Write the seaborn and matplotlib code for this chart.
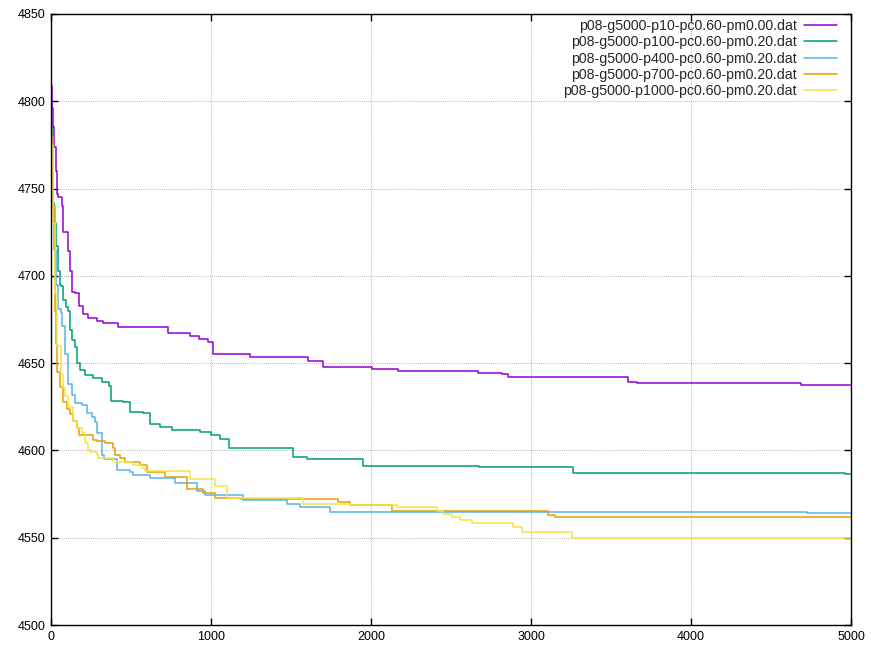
import pandas as pd
import matplotlib
matplotlib.use("Agg")
import matplotlib.pyplot as plt
import seaborn as sns

# step breakpoints (generation, best fitness)
p10_gen = [0, 6, 12, 19, 31, 37, 44, 67, 75, 106, 119, 131, 150, 175, 200, 231, 288, 325, 419,
           731, 869, 925, 981, 1012, 1244, 1606, 1700, 2006, 2169, 2669, 2819, 2856, 3025,
           3606, 3662, 4688, 5000]
p10_val = [4809, 4796, 4785, 4774, 4760, 4747, 4745, 4740, 4725, 4714, 4703, 4691, 4690, 4683,
           4678, 4676, 4674, 4673, 4670.5, 4667, 4665.5, 4664, 4662, 4655.5, 4653.5, 4651, 4648,
           4646.5, 4645.7, 4644.4, 4643.5, 4642.2, 4641.9, 4639, 4638.4, 4637.6, 4637.6]

p100_gen = [0, 3, 6, 12, 19, 31, 44, 56, 62, 75, 94, 106, 119, 131, 150, 162, 181, 212, 262, 319,
            362, 375, 450, 494, 575, 619, 681, 756, 931, 1000, 1056, 1112, 1512, 1600, 1950,
            2675, 3262, 4962, 5000]
p100_val = [4795, 4785, 4755, 4742, 4730, 4717, 4703, 4695, 4694, 4686, 4682, 4680, 4669, 4663,
            4659, 4650, 4646, 4643, 4641.5, 4639.2, 4637, 4628.3, 4627.7, 4622, 4621.4, 4615,
            4613.4, 4611.7, 4610.6, 4608.8, 4606.5, 4601.2, 4596, 4595, 4591, 4590.5, 4587.2,
            4586.5, 4586.5]

p400_gen = [0, 6, 19, 31, 44, 62, 69, 87, 106, 131, 150, 194, 225, 256, 275, 287, 319, 331, 412,
            494, 512, 619, 775, 912, 962, 1200, 1475, 1556, 1744, 4725, 5000]
p400_val = [4765, 4740, 4715, 4695, 4681, 4679, 4671, 4655, 4638, 4632, 4627, 4626, 4621.4, 4619,
            4616, 4610, 4597.5, 4595, 4588.8, 4587.6, 4586, 4584.4, 4581.5, 4576.5, 4574.5,
            4571.6, 4569.2, 4567.6, 4564.8, 4564.2, 4564.2]

p700_gen = [0, 12, 25, 31, 37, 56, 75, 100, 119, 137, 162, 175, 262, 287, 337, 387, 400, 431, 462,
            556, 600, 712, 850, 950, 1025, 1181, 1794, 1869, 2131, 3106, 3150, 5000]
p700_val = [4780, 4740, 4680, 4661, 4645, 4636.3, 4628, 4624, 4621, 4617, 4613, 4609, 4606,
            4605.4, 4604.3, 4601.5, 4597.4, 4595.7, 4593.4, 4591.6, 4587.5, 4585, 4578, 4575.6,
            4572.9, 4572, 4570.6, 4568.5, 4565.3, 4563, 4561.7, 4561.7]

p1000_gen = [0, 12, 25, 37, 62, 75, 87, 106, 137, 162, 194, 212, 231, 244, 287, 294, 387, 512, 569,
             587, 869, 1025, 1100, 1575, 1869, 2162, 2412, 2450, 2506, 2556, 2631, 2888, 2944,
             3256, 5000]
p1000_val = [4775, 4730, 4690, 4660, 4644, 4636, 4631, 4625, 4617, 4613, 4610, 4604, 4600, 4599,
             4597.4, 4595.7, 4593.4, 4591.6, 4590, 4588.5, 4583.8, 4579.6, 4572.6, 4569.2,
             4568.5, 4567.5, 4565.3, 4563.6, 4562, 4560.2, 4558.6, 4556.3, 4553.1, 4549.6,
             4549.6]

names = ["p08-g5000-p10-pc0.60-pm0.00.dat", "p08-g5000-p100-pc0.60-pm0.20.dat",
         "p08-g5000-p400-pc0.60-pm0.20.dat", "p08-g5000-p700-pc0.60-pm0.20.dat",
         "p08-g5000-p1000-pc0.60-pm0.20.dat"]
colors = ["#9400d3", "#009e73", "#56b4e9", "#e69f00", "#f0e442"]

series = [(p10_gen, p10_val), (p100_gen, p100_val), (p400_gen, p400_val),
          (p700_gen, p700_val), (p1000_gen, p1000_val)]
frames = []
for name, (g, v) in zip(names, series):
    frames.append(pd.DataFrame({"gen": g, "fitness": v, "file": name}))
df = pd.concat(frames, ignore_index=True)

sns.set_style("ticks")
plt.rcParams['font.family'] = ['Liberation Sans', 'DejaVu Sans']

fig = plt.figure(figsize=(8.71, 6.48), dpi=100)
ax = fig.add_axes([51 / 871, 1 - 625 / 648, 800 / 871, 611 / 648])

sns.lineplot(data=df, x="gen", y="fitness", hue="file", palette=colors,
             estimator=None, sort=False, drawstyle="steps-post", linewidth=1.1, ax=ax)

ax.set_xlim(0, 5000)
ax.set_ylim(4500, 4850)
ax.set_xticks(range(0, 5001, 1000))
ax.set_yticks(range(4500, 4851, 50))
ax.set_xlabel("")
ax.set_ylabel("")
ax.grid(True, color="#a0a0a0", linestyle=(0, (1, 1.5)), linewidth=0.6)
ax.set_axisbelow(True)
ax.tick_params(direction="in", length=5, width=1, top=True, right=True,
               labelsize=9, colors="black", pad=4)
for s in ax.spines.values():
    s.set_visible(True)
    s.set_color("black")
    s.set_linewidth(1.0)

handles, labels = ax.get_legend_handles_labels()
ax.legend(handles, labels, loc="upper right", frameon=False, markerfirst=False,
          fontsize=10.2, handlelength=2.35, labelspacing=0.16, borderaxespad=0.3,
          handletextpad=0.5, bbox_to_anchor=(0.995, 1.008))

fig.savefig("out.png", dpi=100)
